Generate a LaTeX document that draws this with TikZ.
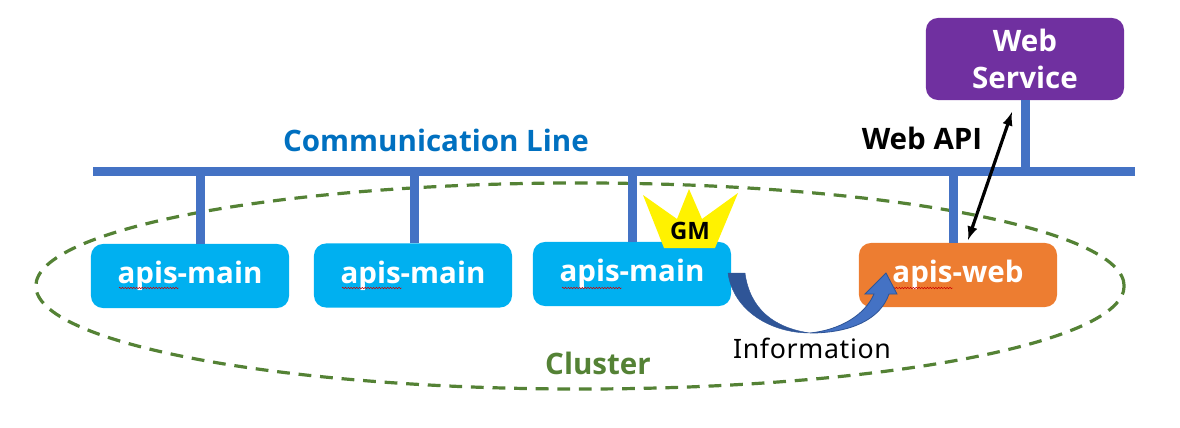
\documentclass[tikz,border=0pt]{standalone}
\usepackage{fontspec}
\setmainfont{Open Sans}
\newfontfamily\infofont[LetterSpace=2.5]{Noto Sans}
\usetikzlibrary{shapes.geometric,decorations.pathmorphing}
\definecolor{mainblue}{HTML}{00B0F0}
\definecolor{weborange}{HTML}{ED7D31}
\definecolor{servicepurple}{HTML}{7030A0}
\definecolor{lineblue}{HTML}{4472C4}
\definecolor{titleblue}{HTML}{0070C0}
\definecolor{clustergreen}{HTML}{548235}
\definecolor{arrowdark}{HTML}{2F5597}
\tikzset{
    apisbox/.style={rounded corners=.3cm,minimum width=4.95cm,minimum height=1.6cm,inner sep=0pt,
        text=white,font=\fontsize{21}{26}\selectfont\bfseries},
    busline/.style={lineblue,line width=.225cm},
    squiggle/.style={red!80!black,line width=.35pt,decorate,decoration={zigzag,segment length=2pt,amplitude=.5pt}},
    boldlabel/.style={inner sep=0pt,font=\fontsize{21}{26}\selectfont\bfseries}
}
\begin{document}
\begin{tikzpicture}[>=latex,x=.025cm,y=-.025cm]
    \useasboundingbox (0,0) rectangle (1180,428);
    \node[ellipse,draw=clustergreen,line width=.08cm,dash pattern=on .32cm off .22cm,
        minimum width=27.2cm,minimum height=5.15cm,inner sep=0pt](cluster)at(580,286){};
    \node[fill=lineblue,minimum width=26.05cm,minimum height=.225cm,inner sep=0pt](commline)at(614,171.5){};
    \node[apisbox,fill=mainblue](mainA)at(190,276){apis-main};
    \node[apisbox,fill=mainblue](mainB)at(413,275.5){apis-main};
    \node[apisbox,fill=mainblue](mainC)at(632,274){apis-main};
    \node[apisbox,fill=weborange](apiweb)at(958,275){apis-web};
    \node[apisbox,fill=servicepurple,minimum height=2.05cm,align=center](service)at(1025,59){Web\\Service};
    \foreach \x/\target in {200.5/mainA,414.5/mainB,632.5/mainC,953.5/apiweb}
    {
        \draw[busline](\x,171.5 |- commline.south)--(\x,171.5 |- \target.north);
    }
    \draw[busline](service.south)--(service.south |- commline.north);
    \foreach \x in {119,342,562,893}
    {
        \draw[squiggle](\x,288)--(\x+60,288);
    }
    \coordinate(apitop)at(1012,112);
    \coordinate(apibottom)at(968,240);
    \draw[<->,line width=.08cm](apitop)--(apibottom);
    % crown
    \fill[yellow](643,195)--(677,219)--(689,189)--(702,219)--(738,193)--(715,248)--(664,248)--cycle;
    \node[inner sep=0pt,font=\fontsize{17}{19}\selectfont\bfseries](gm)at(690,231){GM};
    % curved arrow
    \draw[arrowdark,fill=arrowdark,line width=.3pt](728,273)..controls(733,310)and(770,333)..(810,333)
        ..controls(775,328)and(750,310)..(745,273)--cycle;
    \draw[arrowdark,fill=lineblue,line width=.6pt](810,333)..controls(850,333)and(880,320)..(889,294)
        --(897,294)--(886,273)--(865,294)--(874,294)..controls(865,315)and(840,330)..(810,333)--cycle;
    \node[boldlabel,text=titleblue](commlabel)at(436,140){Communication Line};
    \node[boldlabel](apilabel)at(922,138){Web API};
    \node[boldlabel,text=clustergreen](clusterlabel)at(598,363){Cluster};
    \node[inner sep=0pt,font=\fontsize{19}{23}\selectfont\infofont](infolabel)at(812,348){Information};
\end{tikzpicture}
\end{document}
